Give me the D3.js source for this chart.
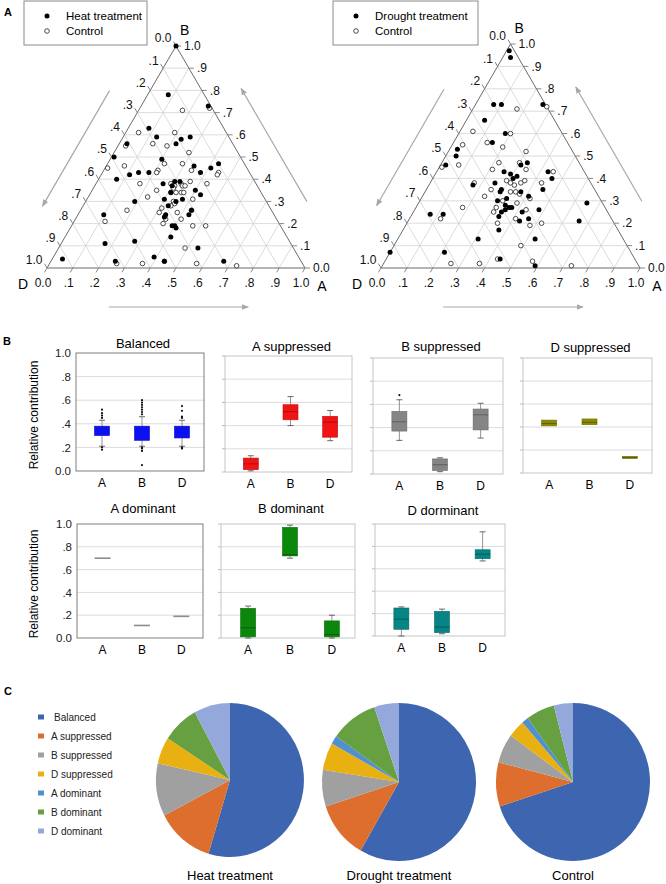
<!DOCTYPE html>
<html>
<head>
<meta charset="utf-8">
<script src="https://cdn.jsdelivr.net/npm/d3@7"></script>
<style>
  body { margin: 0; background: #fff; }
  svg { font-family: Arial, "Liberation Sans", sans-serif; }
</style>
</head>
<body>
<svg id="fig" width="666" height="884"></svg>
<script>
/* ---- data: ternary points as [A, B] (D = 1 - A - B) ---- */
let heatPoints = [[0.00,1.00],[0.08,0.78],[0.26,0.73],[0.08,0.63],[0.13,0.59],[0.23,0.58],[0.26,0.59],[0.22,0.56],
  [0.03,0.56],[0.01,0.50],[0.20,0.49],[0.43,0.47],[0.34,0.46],[0.41,0.45],[0.38,0.43],[0.07,0.40],[0.11,0.42],
  [0.14,0.43],[0.18,0.43],[0.30,0.39],[0.32,0.39],[0.26,0.38],[0.30,0.37],[0.40,0.35],[0.31,0.34],[0.43,0.33],
  [0.30,0.31],[0.37,0.31],[0.35,0.30],[0.19,0.30],[0.33,0.28],[0.43,0.26],[0.34,0.24],[0.34,0.23],[0.43,0.24],
  [0.10,0.24],[0.39,0.19],[0.41,0.18],[0.40,0.19],[0.41,0.14],[0.17,0.11],[0.28,0.12],[0.54,0.09],[0.39,0.05],
  [0.44,0.03],[0.67,0.03],[0.04,0.04],[0.25,0.03]];
let heatControl = [[0.17,0.71],[0.27,0.72],[0.05,0.61],[0.19,0.61],[0.13,0.56],[0.03,0.55],[0.19,0.55],[0.29,0.52],
  [0.22,0.47],[0.29,0.47],[0.01,0.45],[0.07,0.46],[0.21,0.44],[0.21,0.43],[0.34,0.44],[0.45,0.43],[0.45,0.42],
  [0.29,0.38],[0.31,0.37],[0.33,0.38],[0.34,0.37],[0.35,0.37],[0.36,0.39],[0.17,0.38],[0.43,0.38],[0.31,0.36],
  [0.25,0.35],[0.31,0.34],[0.33,0.34],[0.35,0.34],[0.36,0.34],[0.41,0.31],[0.23,0.32],[0.34,0.30],[0.35,0.29],
  [0.31,0.27],[0.34,0.28],[0.31,0.25],[0.38,0.25],[0.43,0.26],[0.18,0.26],[0.12,0.21],[0.35,0.22],[0.41,0.22],
  [0.35,0.20],[0.47,0.19],[0.52,0.19],[0.49,0.09],[0.44,0.03],[0.26,0.02],[0.36,0.02],[0.57,0.02],[0.73,0.01]];
let droughtPoints = [[0.01,0.97],[0.03,0.94],[0.07,0.73],[0.10,0.73],[0.26,0.73],[0.07,0.66],[0.18,0.60],[0.15,0.56],
  [0.03,0.53],[0.04,0.50],[0.02,0.46],[0.31,0.46],[0.33,0.47],[0.26,0.43],[0.29,0.42],[0.31,0.40],[0.32,0.41],
  [0.43,0.43],[0.46,0.40],[0.25,0.38],[0.17,0.37],[0.29,0.35],[0.29,0.34],[0.37,0.34],[0.45,0.35],[0.30,0.30],
  [0.33,0.31],[0.41,0.32],[0.65,0.29],[0.34,0.28],[0.36,0.27],[0.37,0.27],[0.35,0.26],[0.34,0.25],[0.42,0.25],
  [0.48,0.26],[0.07,0.24],[0.12,0.24],[0.34,0.23],[0.43,0.21],[0.46,0.22],[0.66,0.21],[0.37,0.17],[0.31,0.13],
  [0.53,0.13],[0.00,0.07],[0.21,0.07],[0.44,0.04],[0.59,0.01]];
let droughtControl = [[0.17,0.71],[0.28,0.72],[0.05,0.61],[0.20,0.60],[0.13,0.56],[0.04,0.55],[0.20,0.54],[0.30,0.52],
  [0.22,0.47],[0.30,0.47],[0.07,0.46],[0.01,0.45],[0.21,0.44],[0.34,0.44],[0.45,0.43],[0.17,0.38],[0.29,0.39],
  [0.31,0.38],[0.33,0.37],[0.35,0.38],[0.36,0.39],[0.43,0.38],[0.25,0.35],[0.33,0.34],[0.35,0.34],[0.37,0.33],
  [0.24,0.32],[0.32,0.30],[0.42,0.31],[0.38,0.29],[0.31,0.27],[0.31,0.25],[0.43,0.26],[0.18,0.27],[0.12,0.22],
  [0.41,0.22],[0.35,0.20],[0.48,0.19],[0.52,0.20],[0.49,0.10],[0.43,0.04],[0.26,0.02],[0.37,0.02],[0.57,0.03],
  [0.73,0.01]];

/* ---- data: box plots, per category [low, q1, median, q3, high] ---- */
let boxCats = ["A", "B", "D"];
let balancedStats = [[0.21,0.30,0.34,0.38,0.43],[0.21,0.26,0.33,0.38,0.46],[0.21,0.28,0.33,0.38,0.43]];
let balancedOutliers = [[0.52,0.49,0.47,0.45,0.20,0.18],[0.60,0.58,0.56,0.54,0.52,0.50,0.48,0.20,0.19,0.17,0.05],
  [0.55,0.51,0.46,0.45,0.20,0.19]];
let aSupStats = [[0.01,0.02,0.07,0.12,0.14],[0.40,0.45,0.52,0.58,0.65],[0.27,0.30,0.43,0.48,0.53]];
let bSupStats = [[0.29,0.37,0.45,0.54,0.64],[0.02,0.03,0.08,0.13,0.14],[0.31,0.38,0.51,0.56,0.61]];
let bSupOutliers = [[0.68],[],[]];
let dSupStats = [[0.41,0.41,0.43,0.46,0.46],[0.42,0.42,0.44,0.47,0.47],[0.125,0.125,0.135,0.145,0.145]];
let aDomStats = [[0.70,0.70,0.70,0.70,0.70],[0.11,0.11,0.11,0.11,0.11],[0.19,0.19,0.19,0.19,0.19]];
let bDomStats = [[0.00,0.01,0.09,0.26,0.28],[0.70,0.72,0.73,0.97,0.99],[0.00,0.01,0.03,0.15,0.20]];
let dDomStats = [[0.00,0.06,0.15,0.25,0.26],[0.02,0.03,0.08,0.22,0.24],[0.67,0.69,0.73,0.77,0.93]];

/* ---- data: pies (% of triads) ---- */
let pieLabels = ["Balanced", "A suppressed", "B suppressed", "D suppressed", "A dominant", "B dominant", "D dominant"];
let pieColors = ["#3e65b0", "#dd6e2e", "#a0a0a0", "#e9b012", "#5090cf", "#66a040", "#94a8db"];
let heatShares = [54.7, 12.7, 11.1, 5.6, 0, 8.0, 7.9];
let droughtShares = [58.3, 11.7, 7.5, 5.6, 1.7, 10.0, 5.2];
let controlShares = [70.0, 9.0, 6.0, 3.6, 1.4, 6.0, 4.0];

let svg = d3.select("#fig");
let font = 'Arial, "Liberation Sans", sans-serif';
let fmt = v => v === 0 ? "0.0" : v === 1 ? "1.0" : "." + Math.round(v * 10);

svg.append("defs").append("marker")
    .attr("id", "head")
    .attr("viewBox", "0 0 10 10")
    .attr("refX", 9).attr("refY", 5)
    .attr("markerWidth", 6).attr("markerHeight", 6)
    .attr("orient", "auto")
  .append("path")
    .attr("d", "M0,1 L10,5 L0,9 Z")
    .attr("fill", "#a8a8a8");

// panel letters
[["A", 4, 16], ["B", 3, 345], ["C", 4, 695]].forEach(([t, x, y]) => {
    svg.append("text").attr("x", x).attr("y", y)
        .attr("font-size", 11).attr("font-weight", "bold").text(t);
});

/* -------- A: ternary plots -------- */
function ternary(cfg, treated, control, legendText) {
    let g = svg.append("g");
    let xs = d3.scaleLinear().domain([0, 1]).range([cfg.x0, cfg.x1]);
    let ys = d3.scaleLinear().domain([0, 1]).range([cfg.yb, cfg.yt]);
    let P = (a, b) => [xs(a + b / 2), ys(b)];
    let line = d3.line();

    let grid = g.append("g").attr("stroke", "#d3d3d3").attr("stroke-width", 0.8).attr("fill", "none");
    d3.range(1, 10).map(k => k / 10).forEach(v => {
        grid.append("path").attr("d", line([P(0, v), P(1 - v, v)]));
        grid.append("path").attr("d", line([P(1 - v, 0), P(0, 1 - v)]));
        grid.append("path").attr("d", line([P(v, 0), P(v, 1 - v)]));
    });

    g.append("path")
        .attr("d", line([P(0, 0), P(1, 0), P(0, 1)]) + "Z")
        .attr("fill", "none").attr("stroke", "#6a6a6a").attr("stroke-width", 1);

    let labels = g.append("g").attr("font-size", 12).attr("fill", "#111");
    let tk = 5;
    d3.range(0, 11).map(k => k / 10).forEach(v => {
        // D scale on the left edge
        let [x, y] = P(0, 1 - v);
        g.append("line").attr("x1", x).attr("y1", y)
            .attr("x2", x - 0.5 * tk).attr("y2", y - 0.866 * tk).attr("stroke", "#888");
        labels.append("text").attr("x", x - 4.5).attr("y", y - 7.8).attr("dy", "0.35em")
            .attr("text-anchor", "end").text(fmt(v));
        // B scale on the right edge
        [x, y] = P(1 - v, v);
        g.append("line").attr("x1", x).attr("y1", y).attr("x2", x + tk).attr("y2", y).attr("stroke", "#888");
        labels.append("text").attr("x", x + 8).attr("y", y).attr("dy", "0.35em").text(fmt(v));
        // A scale on the bottom edge
        [x, y] = P(v, 0);
        g.append("line").attr("x1", x).attr("y1", y)
            .attr("x2", x - 0.5 * tk).attr("y2", y + 0.866 * tk).attr("stroke", "#888");
        labels.append("text").attr("x", x - 4).attr("y", y + 15).attr("dy", "0.35em")
            .attr("text-anchor", "middle").text(fmt(v));
    });

    let [bx, by] = P(0, 1);
    g.append("text").attr("x", bx + 4).attr("y", by - 16).attr("dy", "0.35em").attr("font-size", 14).text("B");
    g.append("text").attr("x", cfg.x0 - 24).attr("y", cfg.yb + 16).attr("dy", "0.35em")
        .attr("text-anchor", "middle").attr("font-size", 14).text("D");
    g.append("text").attr("x", cfg.x1 + 17).attr("y", cfg.yb + 18).attr("dy", "0.35em")
        .attr("text-anchor", "middle").attr("font-size", 14).text("A");

    // direction arrows
    let shift = (p, n, o) => [p[0] + n[0] * o, p[1] + n[1] * o];
    let arrows = [
        [shift(P(0, 0.72), [-0.866, -0.5], 35), shift(P(0, 0.2), [-0.866, -0.5], 35)],
        [shift(P(0.78, 0.22), [0.866, -0.5], 35), shift(P(0.27, 0.73), [0.866, -0.5], 35)],
        [shift(P(0.24, 0), [0, 1], 39), shift(P(0.78, 0), [0, 1], 39)]
    ];
    arrows.forEach(a => {
        g.append("path").attr("d", line(a)).attr("stroke", "#a8a8a8").attr("stroke-width", 1.2)
            .attr("fill", "none").attr("marker-end", "url(#head)");
    });

    // points
    g.append("g").selectAll("circle").data(control).join("circle")
        .attr("cx", d => P(d[0], d[1])[0]).attr("cy", d => P(d[0], d[1])[1])
        .attr("r", 2.3).attr("fill", "#fff").attr("stroke", "#222").attr("stroke-width", 0.8);
    g.append("g").selectAll("circle").data(treated).join("circle")
        .attr("cx", d => P(d[0], d[1])[0]).attr("cy", d => P(d[0], d[1])[1])
        .attr("r", 2.5).attr("fill", "#000");

    // legend
    let L = cfg.legend;
    g.append("rect").attr("x", L.x).attr("y", L.y).attr("width", L.w).attr("height", L.h)
        .attr("fill", "none").attr("stroke", "#8a8a8a");
    g.append("circle").attr("cx", L.x + 23).attr("cy", L.y + 15).attr("r", 2.5).attr("fill", "#000");
    g.append("circle").attr("cx", L.x + 23).attr("cy", L.y + 30).attr("r", 2.3)
        .attr("fill", "#fff").attr("stroke", "#222").attr("stroke-width", 0.8);
    g.append("text").attr("x", L.x + 42).attr("y", L.y + 15).attr("dy", "0.35em")
        .attr("font-size", 11.5).text(legendText);
    g.append("text").attr("x", L.x + 42).attr("y", L.y + 30).attr("dy", "0.35em")
        .attr("font-size", 11.5).text("Control");
}

ternary({ x0: 47, x1: 305, yb: 268, yt: 46, legend: { x: 24, y: 1, w: 123, h: 44 } },
    heatPoints, heatControl, "Heat treatment");
ternary({ x0: 381, x1: 640, yb: 268, yt: 44, legend: { x: 333, y: 1, w: 145, h: 44 } },
    droughtPoints, droughtControl, "Drought treatment");

/* -------- B: box plots -------- */
let panels = [
    { title: "Balanced", x0: 76, x1: 204, y0: 353, y1: 471, ty: 348, color: "#0c10f2", median: "#0c10f2",
      stats: balancedStats, outliers: balancedOutliers, axis: true },
    { title: "A suppressed", x0: 225, x1: 352, y0: 356, y1: 472, ty: 351, color: "#f01414", stats: aSupStats },
    { title: "B suppressed", x0: 373, x1: 503, y0: 358, y1: 474, ty: 351, color: "#858585",
      stats: bSupStats, outliers: bSupOutliers },
    { title: "D suppressed", x0: 523, x1: 652, y0: 358, y1: 473, ty: 352, color: "#8a8a00", stats: dSupStats },
    { title: "A dominant", x0: 77, x1: 203, y0: 524, y1: 638, ty: 513, color: "#8c8c8c", stats: aDomStats,
      axis: true, flat: true },
    { title: "B dominant", x0: 221, x1: 355, y0: 524, y1: 638, ty: 513, color: "#0b870b", stats: bDomStats },
    { title: "D dorminant", x0: 375, x1: 505, y0: 524, y1: 636, ty: 515, color: "#078484", stats: dDomStats }
];

panels.forEach(p => {
    let g = svg.append("g");
    let y = d3.scaleLinear().domain([0, 1]).range([p.y1, p.y0]);
    let x = d3.scalePoint().domain(boxCats).range([p.x0 + 2, p.x1 + 2]).padding(0.6);

    g.selectAll("line.grid").data([0.2, 0.4, 0.6, 0.8]).join("line")
        .attr("x1", p.x0).attr("x2", p.x1)
        .attr("y1", d => y(d)).attr("y2", d => y(d))
        .attr("stroke", "#dcdcdc");
    g.append("rect").attr("x", p.x0).attr("y", p.y0)
        .attr("width", p.x1 - p.x0).attr("height", p.y1 - p.y0)
        .attr("fill", "none").attr("stroke", p.axis ? "#7f7f7f" : "#c6c6c6");

    if (p.axis) {
        g.append("g").attr("transform", `translate(${p.x0},0)`)
            .call(d3.axisLeft(y).tickValues([0, 0.2, 0.4, 0.6, 0.8, 1]).tickFormat(fmt).tickSize(0).tickPadding(5))
            .call(s => s.select(".domain").remove())
            .attr("font-family", font).attr("font-size", 11.5)
            .selectAll("text").attr("fill", "#222");
        g.append("text")
            .attr("transform", `translate(38,${(p.y0 + p.y1) / 2 + 3}) rotate(-90)`)
            .attr("text-anchor", "middle").attr("font-size", 12).text("Relative contribution");
    } else {
        g.selectAll("line.tick").data([0, 0.2, 0.4, 0.6, 0.8, 1]).join("line")
            .attr("x1", p.x0 - 3).attr("x2", p.x0)
            .attr("y1", d => y(d)).attr("y2", d => y(d))
            .attr("stroke", "#bbb");
    }

    g.append("text").attr("x", (p.x0 + p.x1) / 2 + 3).attr("y", p.ty)
        .attr("text-anchor", "middle").attr("font-size", 13).text(p.title);

    g.selectAll("text.cat").data(boxCats).join("text")
        .attr("x", d => x(d)).attr("y", p.y1 + 16)
        .attr("text-anchor", "middle").attr("font-size", 12).text(d => d);

    let bw = 15;
    g.selectAll("g.box").data(p.stats).join("g")
        .attr("transform", (d, i) => `translate(${x(boxCats[i])},0)`)
        .each(function (d, i) {
            let b = d3.select(this);
            let [lo, q1, med, q3, hi] = d;
            if (p.flat) {
                b.append("line").attr("x1", -8).attr("x2", 8)
                    .attr("y1", y(med)).attr("y2", y(med))
                    .attr("stroke", p.color).attr("stroke-width", 1.6);
                return;
            }
            if (hi > q3 || lo < q1) {
                b.append("line").attr("x1", 0).attr("x2", 0).attr("y1", y(hi)).attr("y2", y(lo))
                    .attr("stroke", "#666").attr("stroke-width", 0.7);
                [lo, hi].forEach(v => {
                    b.append("line").attr("x1", -3).attr("x2", 3).attr("y1", y(v)).attr("y2", y(v))
                        .attr("stroke", "#444").attr("stroke-width", 0.8);
                });
            }
            b.append("rect").attr("x", -bw / 2).attr("width", bw)
                .attr("y", y(q3)).attr("height", Math.max(y(q1) - y(q3), 1))
                .attr("fill", p.color).attr("stroke", d3.color(p.color).darker(0.6)).attr("stroke-width", 0.6);
            b.append("line").attr("x1", -bw / 2).attr("x2", bw / 2)
                .attr("y1", y(med)).attr("y2", y(med))
                .attr("stroke", p.median || d3.color(p.color).darker(1.3)).attr("stroke-width", 0.8);
            if (p.outliers) {
                b.selectAll("circle").data(p.outliers[i]).join("circle")
                    .attr("cx", 0).attr("cy", v => y(v)).attr("r", 1.1).attr("fill", "#111");
            }
        });
});

/* -------- C: pies -------- */
let pies = [
    { title: "Heat treatment", cx: 230, cy: 780, rx: 74, ry: 77, values: heatShares },
    { title: "Drought treatment", cx: 399, cy: 782, rx: 77, ry: 79, values: droughtShares },
    { title: "Control", cx: 573, cy: 782, rx: 77, ry: 79, values: controlShares }
];
let pie = d3.pie().sort(null);
let arc = d3.arc().innerRadius(0).outerRadius(1);

pies.forEach(p => {
    svg.append("g")
        .attr("transform", `translate(${p.cx},${p.cy}) scale(${p.rx},${p.ry})`)
        .selectAll("path").data(pie(p.values)).join("path")
        .attr("d", arc)
        .attr("fill", (d, i) => pieColors[i]);
    svg.append("text").attr("x", p.cx).attr("y", 880)
        .attr("text-anchor", "middle").attr("font-size", 13).text(p.title);
});

let legend = svg.append("g");
legend.selectAll("rect").data(pieLabels).join("rect")
    .attr("x", 38).attr("y", (d, i) => 714.5 + i * 19)
    .attr("width", 6).attr("height", 5)
    .attr("fill", (d, i) => pieColors[i]);
legend.selectAll("text").data(pieLabels).join("text")
    .attr("x", (d, i) => i === 0 ? 54 : 51).attr("y", (d, i) => 717 + i * 19).attr("dy", "0.35em")
    .attr("font-size", 10).attr("fill", "#222").text(d => d);
</script>
</body>
</html>
